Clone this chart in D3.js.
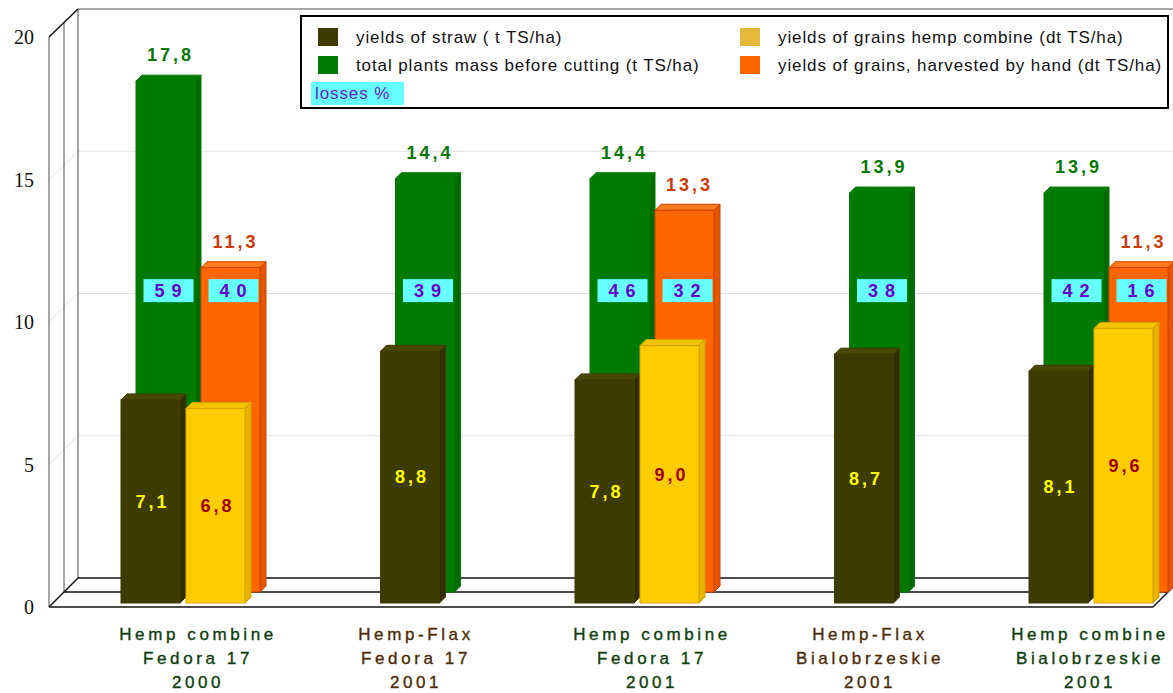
<!DOCTYPE html>
<html>
<head>
<meta charset="utf-8">
<script src="https://cdn.jsdelivr.net/npm/d3@7"></script>
<style>
body { margin: 0; background: #fff; }
svg { display: block; }
</style>
</head>
<body>
<div id="chart"></div>
<script>
// values
var categories = [
  ["Hemp combine", "Fedora 17", "2000"],
  ["Hemp-Flax", "Fedora 17", "2001"],
  ["Hemp combine", "Fedora 17", "2001"],
  ["Hemp-Flax", "Bialobrzeskie", "2001"],
  ["Hemp combine", "Bialobrzeskie", "2001"]
];
var straw = [7.1, 8.8, 7.8, 8.7, 8.1];
var totalMass = [17.8, 14.4, 14.4, 13.9, 13.9];
var grainsCombine = [6.8, null, 9.0, null, 9.6];
var grainsHand = [11.3, null, 13.3, null, 11.3];
var lossesMass = [59, 39, 46, 38, 42];
var lossesHand = [40, null, 32, null, 16];
var yTicks = [0, 5, 10, 15, 20];
var legendItems = [
  "yields of straw ( t TS/ha)",
  "total plants mass before cutting (t TS/ha)",
  "yields of grains hemp combine (dt TS/ha)",
  "yields of grains, harvested by hand (dt TS/ha)"
];

function init(){

var w = 1173;
var h = 693;
var barW = 59;
var depth = 6;
var pitch = 65;

var svg = d3.select("#chart")
  .append("svg")
  .attr("width", w)
  .attr("height", h);

svg.append("rect").attr("width", w).attr("height", h).attr("fill", "#fff");

var x = d3.scaleBand()
  .domain(d3.range(categories.length))
  .range([72.5, 1207.5]);

var yAxis = d3.scaleLinear().domain([0, 20]).range([607, 37]);
var yWall = d3.scaleLinear().domain([0, 20]).range([578, 9]);
var yBack = d3.scaleLinear().domain([0, 20]).range([592, 18]);
var yFront = d3.scaleLinear().domain([0, 20]).range([603, 31]);

var fmt = function(v){ return d3.format(".1f")(v).replace(".", ","); };

// walls and grid
var g = svg.append("g");
g.selectAll(".grid")
  .data(yTicks.slice(1, 4))
  .enter()
  .append("line")
  .attr("x1", 78).attr("x2", w)
  .attr("y1", function(d){ return yWall(d); })
  .attr("y2", function(d){ return yWall(d); })
  .attr("stroke", "#e2e2e2");
g.selectAll(".diag")
  .data(yTicks.slice(1, 4))
  .enter()
  .append("line")
  .attr("x1", 49).attr("x2", 78)
  .attr("y1", function(d){ return yAxis(d); })
  .attr("y2", function(d){ return yWall(d); })
  .attr("stroke", "#e2e2e2");

g.append("line").attr("x1", 78).attr("x2", w).attr("y1", yWall(20)).attr("y2", yWall(20))
  .attr("stroke", "#888").attr("stroke-width", 1.5);
[[49, 37, 607], [64, 23, 592], [78, 9, 578]].forEach(function(d){
  g.append("line").attr("x1", d[0]).attr("x2", d[0]).attr("y1", d[1]).attr("y2", d[2])
    .attr("stroke", "#888").attr("stroke-width", 1.5);
});
g.append("line").attr("x1", 49).attr("y1", 37).attr("x2", 78).attr("y2", 9)
  .attr("stroke", "#111").attr("stroke-width", 1.5);

// floor
[[49, 1153, 607], [64, 1167, 592], [78, 1182, 578]].forEach(function(d){
  g.append("line").attr("x1", d[0]).attr("x2", d[1]).attr("y1", d[2]).attr("y2", d[2])
    .attr("stroke", "#111").attr("stroke-width", 1.5);
});
g.append("line").attr("x1", 49).attr("y1", 607).attr("x2", 78).attr("y2", 578)
  .attr("stroke", "#111").attr("stroke-width", 1.5);
g.append("line").attr("x1", 1153).attr("y1", 607).attr("x2", 1182).attr("y2", 578)
  .attr("stroke", "#111").attr("stroke-width", 1.5);

// y tick labels
svg.selectAll(".ytick")
  .data(yTicks)
  .enter()
  .append("text")
  .attr("x", 34)
  .attr("y", function(d){ return yAxis(d); })
  .attr("dy", "0.35em")
  .attr("text-anchor", "end")
  .attr("font-family", "Liberation Serif, Times New Roman, serif")
  .attr("font-size", 20)
  .attr("fill", "#111")
  .text(function(d){ return d; });

function center(i){ return x(i) + x.bandwidth() / 2; }
function strawX(i){ return grainsCombine[i] != null ? center(i) - pitch : center(i) - pitch / 2; }
function greenX(i){ return strawX(i) + 15; }

// 3D bar
function bar3d(parent, bx, top, base, col){
  var p = parent.append("g");
  p.append("path")
    .attr("d", "M" + bx + "," + top + "L" + (bx + depth) + "," + (top - depth) +
      "L" + (bx + barW + depth) + "," + (top - depth) + "L" + (bx + barW) + "," + top + "Z")
    .attr("fill", col.top).attr("stroke", col.stroke).attr("stroke-width", 1);
  p.append("path")
    .attr("d", "M" + (bx + barW) + "," + top + "L" + (bx + barW + depth) + "," + (top - depth) +
      "L" + (bx + barW + depth) + "," + (base - depth) + "L" + (bx + barW) + "," + base + "Z")
    .attr("fill", col.side).attr("stroke", col.stroke).attr("stroke-width", 1);
  p.append("rect")
    .attr("x", bx).attr("y", top).attr("width", barW).attr("height", base - top)
    .attr("fill", col.front).attr("stroke", col.stroke).attr("stroke-width", 1);
}

var greenCol = {front: "#007a00", top: "#007a00", side: "#006c00", stroke: "#007a00"};
var orangeCol = {front: "#ff6600", top: "#ff7a1a", side: "#e65500", stroke: "#cc4400"};
var strawCol = {front: "#3d3b00", top: "#4a4700", side: "#302e00", stroke: "#3d3b00"};
var yellowCol = {front: "#ffcc00", top: "#f5c400", side: "#e8b400", stroke: "#d4a300"};

var bars = svg.append("g");
totalMass.forEach(function(v, i){
  bar3d(bars, greenX(i), yBack(v), yBack(0), greenCol);
  if (grainsHand[i] != null) {
    bar3d(bars, greenX(i) + pitch, yBack(grainsHand[i]), yBack(0), orangeCol);
  }
});
straw.forEach(function(v, i){
  bar3d(bars, strawX(i), yFront(v), yFront(0), strawCol);
  if (grainsCombine[i] != null) {
    bar3d(bars, strawX(i) + pitch, yFront(grainsCombine[i]), yFront(0), yellowCol);
  }
});

var numFont = "Liberation Sans, Arial, sans-serif";

function valueLabel(cx, cy, txt, col){
  svg.append("text")
    .attr("x", cx).attr("y", cy).attr("dy", "0.35em")
    .attr("text-anchor", "middle")
    .attr("font-family", numFont).attr("font-weight", "bold")
    .attr("font-size", 18).attr("letter-spacing", 3)
    .attr("fill", col)
    .text(txt);
}

totalMass.forEach(function(v, i){
  valueLabel(greenX(i) + barW / 2 + 5, yBack(v) - 26, fmt(v), "#077807");
  if (grainsHand[i] != null) {
    valueLabel(greenX(i) + pitch + barW / 2 + 5, yBack(grainsHand[i]) - 26, fmt(grainsHand[i]), "#cc3a0a");
  }
});
straw.forEach(function(v, i){
  valueLabel(strawX(i) + barW / 2 + 2, (yFront(v) + yFront(0)) / 2, fmt(v), "#ffff00");
  if (grainsCombine[i] != null) {
    valueLabel(strawX(i) + pitch + barW / 2 + 2, (yFront(grainsCombine[i]) + yFront(0)) / 2, fmt(grainsCombine[i]), "#a00000");
  }
});

// losses boxes
function lossBox(cx, v){
  var ly = yBack(10.5);
  svg.append("rect")
    .attr("x", cx - 25).attr("y", ly - 11.5).attr("width", 50).attr("height", 23)
    .attr("fill", "#66ffff");
  svg.append("text")
    .attr("x", cx + 3).attr("y", ly).attr("dy", "0.36em")
    .attr("text-anchor", "middle")
    .attr("font-family", numFont).attr("font-weight", "bold")
    .attr("font-size", 18).attr("letter-spacing", 7)
    .attr("fill", "#6600cc")
    .text(v);
}
lossesMass.forEach(function(v, i){
  lossBox(greenX(i) + barW / 2 + 3, v);
  if (lossesHand[i] != null) lossBox(greenX(i) + pitch + barW / 2 + 3, lossesHand[i]);
});

// category labels
var catColors = ["#0d3d0d", "#4d2a06", "#0d3d0d", "#4d2a06", "#0d3d0d"];
categories.forEach(function(lines, i){
  var cx = Math.min(center(i) + (grainsCombine[i] != null ? 12 : 3), 1090);
  svg.selectAll(".cat" + i)
    .data(lines)
    .enter()
    .append("text")
    .attr("x", cx)
    .attr("y", function(d, k){ return 634 + k * 24; })
    .attr("dy", "0.35em")
    .attr("text-anchor", "middle")
    .attr("font-family", numFont)
    .attr("font-size", 17).attr("letter-spacing", 3.6)
    .attr("stroke", catColors[i]).attr("stroke-width", 0.35)
    .attr("fill", catColors[i])
    .text(function(d){ return d; });
});

// legend
var lg = svg.append("g");
lg.append("rect").attr("x", 301).attr("y", 16).attr("width", 867).attr("height", 92)
  .attr("fill", "#fff").attr("stroke", "#000").attr("stroke-width", 2);
var legendColors = ["#3d3b00", "#007a00", "#e6b83c", "#ff6600"];
var legendPos = [[318, 37], [318, 65], [740, 37], [740, 65]];
legendItems.forEach(function(t, k){
  lg.append("rect")
    .attr("x", legendPos[k][0]).attr("y", legendPos[k][1] - 9)
    .attr("width", 20).attr("height", 18)
    .attr("fill", legendColors[k]);
  lg.append("text")
    .attr("x", legendPos[k][0] + 38).attr("y", legendPos[k][1]).attr("dy", "0.35em")
    .attr("font-family", "Liberation Sans Narrow, Arial Narrow, sans-serif")
    .attr("font-size", 17).attr("letter-spacing", 0.9)
    .attr("fill", "#111")
    .text(t);
});
lg.append("rect").attr("x", 311).attr("y", 82).attr("width", 93).attr("height", 23).attr("fill", "#66ffff");
lg.append("text").attr("x", 315).attr("y", 93.5).attr("dy", "0.35em")
  .attr("font-family", "Liberation Sans Narrow, Arial Narrow, sans-serif")
  .attr("font-size", 17).attr("letter-spacing", 0.9)
  .attr("fill", "#6622cc")
  .text("losses %");
}

window.onload = init;
</script>
</body>
</html>
